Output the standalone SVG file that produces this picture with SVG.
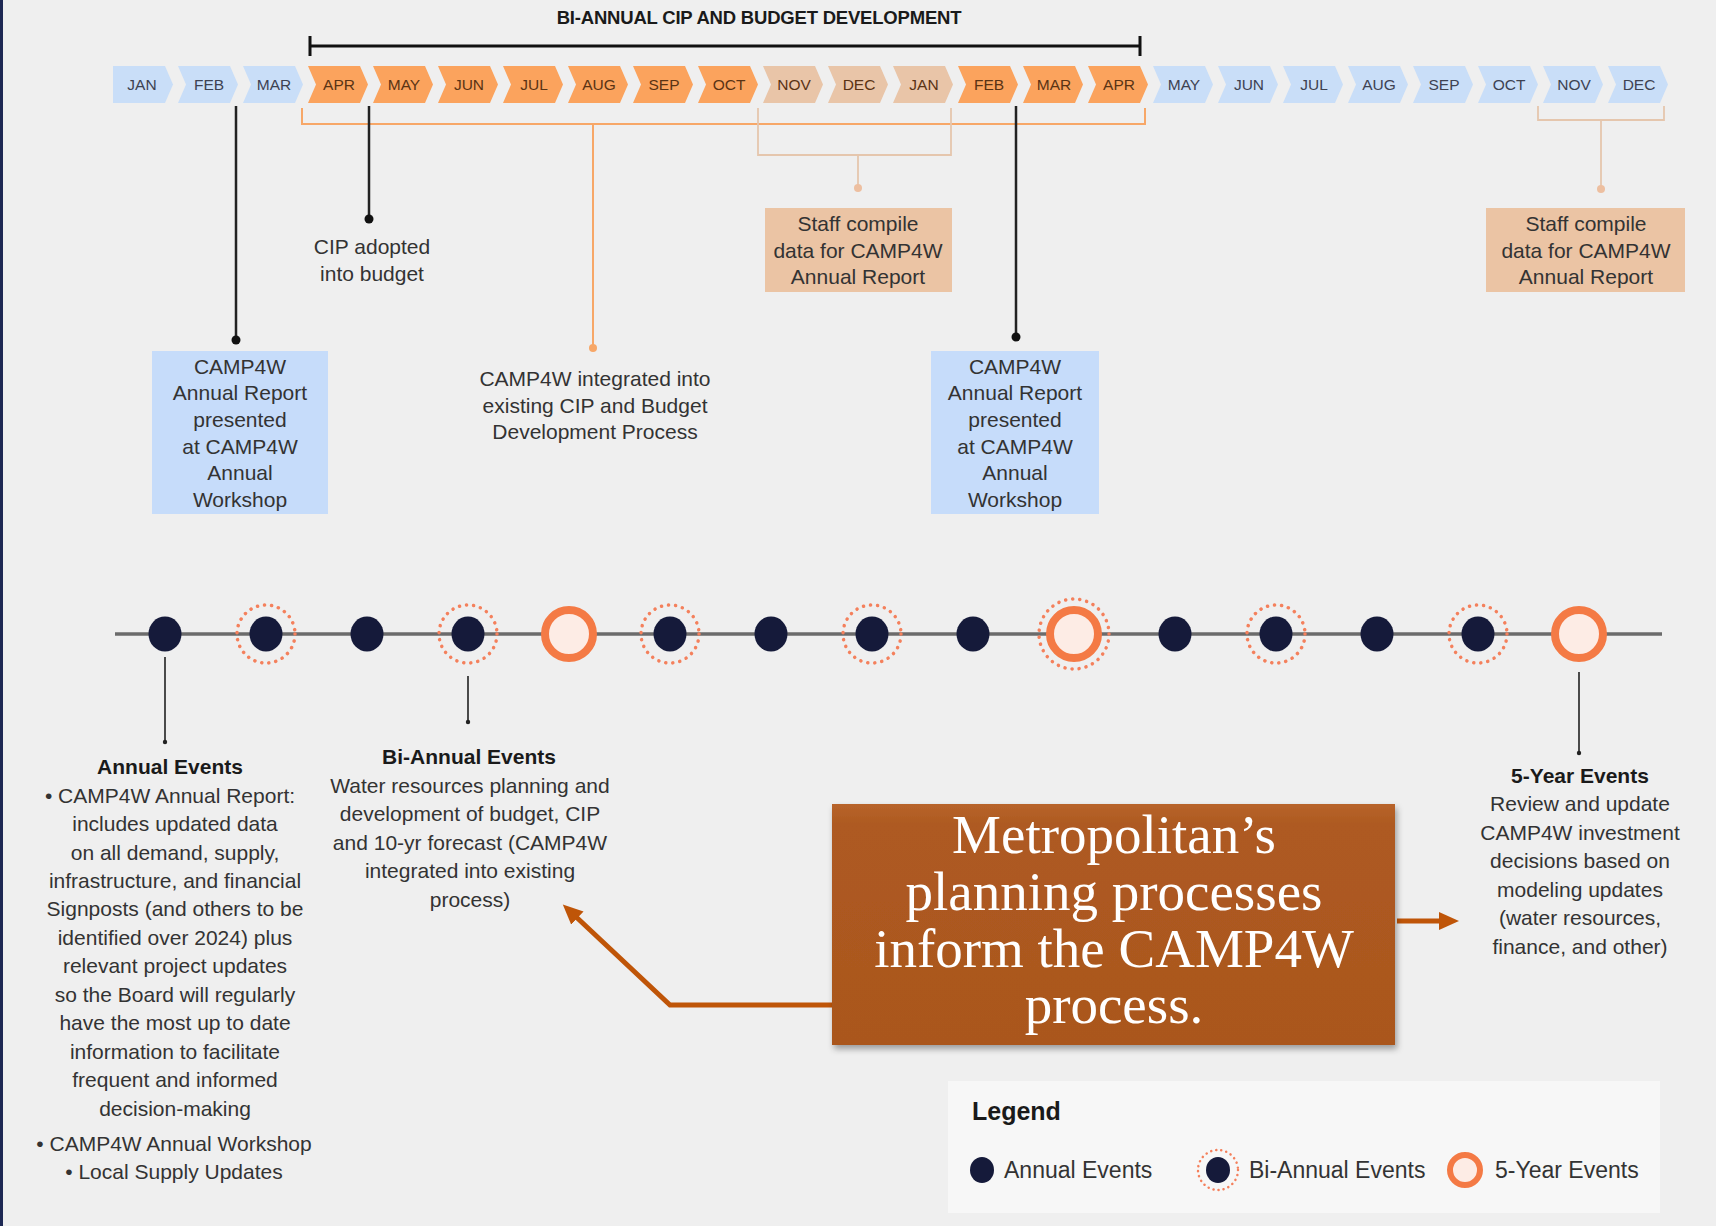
<svg xmlns="http://www.w3.org/2000/svg" width="1716" height="1226" viewBox="0 0 1716 1226">
<defs>
<style>
.sans{font-family:"Liberation Sans",Arial,sans-serif}
.mo{font-family:"Liberation Sans",Arial,sans-serif;font-size:15.5px;text-anchor:middle}
.mob{fill:#3d4252}
.moo{fill:#5a3314}
.chb{fill:#C9DEF8}
.cho{fill:#FBA35D}
.cht{fill:#E9C5A8}
.body{font-family:"Liberation Sans",Arial,sans-serif;font-size:21px;fill:#333333;text-anchor:middle}
.bold{font-weight:bold;fill:#1a1a1a}
.navy{fill:#151a3a}
.bi{fill:none;stroke:#F4805C;stroke-width:3.5;stroke-linecap:round;stroke-dasharray:0.1 7}
.five{fill:#FDECE5;stroke:#F47A45;stroke-width:8}
.blk{stroke:#222;stroke-width:2.5;fill:none}
.org{stroke:#F7A768;stroke-width:2;fill:none}
.tan{stroke:#E5C6AD;stroke-width:1.8;fill:none}
.arrow{stroke:#BF5508;stroke-width:5;fill:none}
</style>
<marker id="ah" markerUnits="userSpaceOnUse" markerWidth="22" markerHeight="20" refX="6" refY="9" orient="auto">
<path d="M0,0 L20,9 L0,18 Z" fill="#BF5508"/>
</marker>
<linearGradient id="brown" x1="0" y1="0" x2="0" y2="1">
<stop offset="0" stop-color="#B8642B"/>
<stop offset="0.08" stop-color="#AE5A21"/>
<stop offset="1" stop-color="#AA571E"/>
</linearGradient>
<filter id="sh" x="-5%" y="-5%" width="112%" height="115%">
<feDropShadow dx="2" dy="4" stdDeviation="3" flood-color="#000" flood-opacity="0.35"/>
</filter>
</defs>
<rect x="0" y="0" width="1716" height="1226" fill="#EFEFEF"/>
<rect x="0" y="0" width="3" height="1226" fill="#1d2853"/>

<g id="title">
<text x="759" y="24" class="sans" font-size="18.5" font-weight="bold" fill="#1a1a1a" text-anchor="middle" letter-spacing="-0.2">BI-ANNUAL CIP AND BUDGET DEVELOPMENT</text>
<path d="M310,46 H1140 M310,36 V56 M1140,36 V56" stroke="#111" stroke-width="3" fill="none"/>
</g>

<g id="months">
<path class="chb" d="M113,66 H165 L173,84.5 L165,103 H113 Z"/>
<text class="mo mob" x="142" y="90">JAN</text>
<path class="chb" d="M178,66 H230 L238,84.5 L230,103 H178 L186,84.5 Z"/>
<text class="mo mob" x="209" y="90">FEB</text>
<path class="chb" d="M243,66 H295 L303,84.5 L295,103 H243 L251,84.5 Z"/>
<text class="mo mob" x="274" y="90">MAR</text>
<path class="cho" d="M308,66 H360 L368,84.5 L360,103 H308 L316,84.5 Z"/>
<text class="mo moo" x="339" y="90">APR</text>
<path class="cho" d="M373,66 H425 L433,84.5 L425,103 H373 L381,84.5 Z"/>
<text class="mo moo" x="404" y="90">MAY</text>
<path class="cho" d="M438,66 H490 L498,84.5 L490,103 H438 L446,84.5 Z"/>
<text class="mo moo" x="469" y="90">JUN</text>
<path class="cho" d="M503,66 H555 L563,84.5 L555,103 H503 L511,84.5 Z"/>
<text class="mo moo" x="534" y="90">JUL</text>
<path class="cho" d="M568,66 H620 L628,84.5 L620,103 H568 L576,84.5 Z"/>
<text class="mo moo" x="599" y="90">AUG</text>
<path class="cho" d="M633,66 H685 L693,84.5 L685,103 H633 L641,84.5 Z"/>
<text class="mo moo" x="664" y="90">SEP</text>
<path class="cho" d="M698,66 H750 L758,84.5 L750,103 H698 L706,84.5 Z"/>
<text class="mo moo" x="729" y="90">OCT</text>
<path class="cht" d="M763,66 H815 L823,84.5 L815,103 H763 L771,84.5 Z"/>
<text class="mo moo" x="794" y="90">NOV</text>
<path class="cht" d="M828,66 H880 L888,84.5 L880,103 H828 L836,84.5 Z"/>
<text class="mo moo" x="859" y="90">DEC</text>
<path class="cht" d="M893,66 H945 L953,84.5 L945,103 H893 L901,84.5 Z"/>
<text class="mo moo" x="924" y="90">JAN</text>
<path class="cho" d="M958,66 H1010 L1018,84.5 L1010,103 H958 L966,84.5 Z"/>
<text class="mo moo" x="989" y="90">FEB</text>
<path class="cho" d="M1023,66 H1075 L1083,84.5 L1075,103 H1023 L1031,84.5 Z"/>
<text class="mo moo" x="1054" y="90">MAR</text>
<path class="cho" d="M1088,66 H1140 L1148,84.5 L1140,103 H1088 L1096,84.5 Z"/>
<text class="mo moo" x="1119" y="90">APR</text>
<path class="chb" d="M1153,66 H1205 L1213,84.5 L1205,103 H1153 L1161,84.5 Z"/>
<text class="mo mob" x="1184" y="90">MAY</text>
<path class="chb" d="M1218,66 H1270 L1278,84.5 L1270,103 H1218 L1226,84.5 Z"/>
<text class="mo mob" x="1249" y="90">JUN</text>
<path class="chb" d="M1283,66 H1335 L1343,84.5 L1335,103 H1283 L1291,84.5 Z"/>
<text class="mo mob" x="1314" y="90">JUL</text>
<path class="chb" d="M1348,66 H1400 L1408,84.5 L1400,103 H1348 L1356,84.5 Z"/>
<text class="mo mob" x="1379" y="90">AUG</text>
<path class="chb" d="M1413,66 H1465 L1473,84.5 L1465,103 H1413 L1421,84.5 Z"/>
<text class="mo mob" x="1444" y="90">SEP</text>
<path class="chb" d="M1478,66 H1530 L1538,84.5 L1530,103 H1478 L1486,84.5 Z"/>
<text class="mo mob" x="1509" y="90">OCT</text>
<path class="chb" d="M1543,66 H1595 L1603,84.5 L1595,103 H1543 L1551,84.5 Z"/>
<text class="mo mob" x="1574" y="90">NOV</text>
<path class="chb" d="M1608,66 H1660 L1668,84.5 L1660,103 H1608 L1616,84.5 Z"/>
<text class="mo mob" x="1639" y="90">DEC</text>
</g>

<g id="connectors">
<path class="org" d="M302,108 V124 H1145 V108 M593,124 V348"/>
<circle cx="593" cy="348" r="4" fill="#F7A768"/>
<path class="tan" d="M758,108 V155 H951 V108 M858,155 V188"/>
<circle cx="858" cy="188" r="4" fill="#EDBFA0"/>
<path class="tan" d="M1538,106 V120 H1664 V106 M1601,120 V189"/>
<circle cx="1601" cy="189" r="4" fill="#EDBFA0"/>
<path class="blk" d="M236,106 V340 M369,106 V219 M1016,106 V337"/>
<circle cx="236" cy="340" r="4.5" fill="#111"/>
<circle cx="369" cy="219" r="4.5" fill="#111"/>
<circle cx="1016" cy="337" r="4.5" fill="#111"/>
<path d="M165,657 V742 M468,676 V722 M1579,672 V753" stroke="#222" stroke-width="1.6" fill="none"/>
<circle cx="165" cy="742" r="2.2" fill="#222"/>
<circle cx="468" cy="722" r="2.2" fill="#222"/>
<circle cx="1579" cy="753" r="2.2" fill="#222"/>
<path class="arrow" d="M834,1005 H670 L573,914" marker-end="url(#ah)"/>
<path class="arrow" d="M1397,921 H1445" marker-end="url(#ah)"/>
</g>

<g id="cip-adopted">
<text class="body" x="372" y="254">CIP adopted</text>
<text class="body" x="372" y="281">into budget</text>
</g>

<g id="staff-compile-1">
<rect x="765" y="208" width="187" height="84" fill="#EBC4A4"/>
<text class="body" x="858" y="231">Staff compile</text>
<text class="body" x="858" y="258">data for CAMP4W</text>
<text class="body" x="858" y="284">Annual Report</text>
</g>

<g id="staff-compile-2">
<rect x="1486" y="208" width="199" height="84" fill="#EBC4A4"/>
<text class="body" x="1586" y="231">Staff compile</text>
<text class="body" x="1586" y="258">data for CAMP4W</text>
<text class="body" x="1586" y="284">Annual Report</text>
</g>

<g id="annual-report-1">
<rect x="152" y="351" width="176" height="163" fill="#C6DCFA"/>
<text class="body" x="240" y="374">CAMP4W</text>
<text class="body" x="240" y="400">Annual Report</text>
<text class="body" x="240" y="427">presented</text>
<text class="body" x="240" y="454">at CAMP4W</text>
<text class="body" x="240" y="480">Annual</text>
<text class="body" x="240" y="507">Workshop</text>
</g>

<g id="annual-report-2">
<rect x="931" y="351" width="168" height="163" fill="#C6DCFA"/>
<text class="body" x="1015" y="374">CAMP4W</text>
<text class="body" x="1015" y="400">Annual Report</text>
<text class="body" x="1015" y="427">presented</text>
<text class="body" x="1015" y="454">at CAMP4W</text>
<text class="body" x="1015" y="480">Annual</text>
<text class="body" x="1015" y="507">Workshop</text>
</g>

<g id="camp4w-integrated">
<text class="body" x="595" y="386">CAMP4W integrated into</text>
<text class="body" x="595" y="413">existing CIP and Budget</text>
<text class="body" x="595" y="439">Development Process</text>
</g>

<g id="timeline">
<path d="M115,634 H1662" stroke="#6b6b6b" stroke-width="3.5"/>
<ellipse class="navy" cx="165" cy="634" rx="16.5" ry="17.5"/>
<ellipse class="navy" cx="266" cy="634" rx="16.5" ry="17.5"/><circle class="bi" cx="266" cy="634" r="29"/>
<ellipse class="navy" cx="367" cy="634" rx="16.5" ry="17.5"/>
<ellipse class="navy" cx="468" cy="634" rx="16.5" ry="17.5"/><circle class="bi" cx="468" cy="634" r="29"/>
<circle class="five" cx="569" cy="634" r="24"/>
<ellipse class="navy" cx="670" cy="634" rx="16.5" ry="17.5"/><circle class="bi" cx="670" cy="634" r="29"/>
<ellipse class="navy" cx="771" cy="634" rx="16.5" ry="17.5"/>
<ellipse class="navy" cx="872" cy="634" rx="16.5" ry="17.5"/><circle class="bi" cx="872" cy="634" r="29"/>
<ellipse class="navy" cx="973" cy="634" rx="16.5" ry="17.5"/>
<circle class="five" cx="1074" cy="634" r="24"/><circle class="bi" cx="1074" cy="634" r="35"/>
<ellipse class="navy" cx="1175" cy="634" rx="16.5" ry="17.5"/>
<ellipse class="navy" cx="1276" cy="634" rx="16.5" ry="17.5"/><circle class="bi" cx="1276" cy="634" r="29"/>
<ellipse class="navy" cx="1377" cy="634" rx="16.5" ry="17.5"/>
<ellipse class="navy" cx="1478" cy="634" rx="16.5" ry="17.5"/><circle class="bi" cx="1478" cy="634" r="29"/>
<circle class="five" cx="1579" cy="634" r="24"/>
</g>

<g id="annual-events">
<text class="body bold" x="170" y="774">Annual Events</text>
<text class="body" x="170" y="803">• CAMP4W Annual Report:</text>
<text class="body" x="175" y="831">includes updated data</text>
<text class="body" x="175" y="860">on all demand, supply,</text>
<text class="body" x="175" y="888">infrastructure, and financial</text>
<text class="body" x="175" y="916">Signposts (and others to be</text>
<text class="body" x="175" y="945">identified over 2024) plus</text>
<text class="body" x="175" y="973">relevant project updates</text>
<text class="body" x="175" y="1002">so the Board will regularly</text>
<text class="body" x="175" y="1030">have the most up to date</text>
<text class="body" x="175" y="1059">information to facilitate</text>
<text class="body" x="175" y="1087">frequent and informed</text>
<text class="body" x="175" y="1116">decision-making</text>
<text class="body" x="174" y="1151">• CAMP4W Annual Workshop</text>
<text class="body" x="174" y="1179">• Local Supply Updates</text>
</g>

<g id="bi-annual-events">
<text class="body bold" x="469" y="764">Bi-Annual Events</text>
<text class="body" x="470" y="793">Water resources planning and</text>
<text class="body" x="470" y="821">development of budget, CIP</text>
<text class="body" x="470" y="850">and 10-yr forecast (CAMP4W</text>
<text class="body" x="470" y="878">integrated into existing</text>
<text class="body" x="470" y="907">process)</text>
</g>

<g id="five-year-events">
<text class="body bold" x="1580" y="783">5-Year Events</text>
<text class="body" x="1580" y="811">Review and update</text>
<text class="body" x="1580" y="840">CAMP4W investment</text>
<text class="body" x="1580" y="868">decisions based on</text>
<text class="body" x="1580" y="897">modeling updates</text>
<text class="body" x="1580" y="925">(water resources,</text>
<text class="body" x="1580" y="954">finance, and other)</text>
</g>

<g id="callout">
<rect x="832" y="804" width="563" height="241" fill="url(#brown)" filter="url(#sh)"/>
<g font-family="'Liberation Serif','Times New Roman',serif" font-size="55" fill="#ffffff" text-anchor="middle">
<text x="1114" y="853">Metropolitan’s</text>
<text x="1114" y="910">planning processes</text>
<text x="1114" y="967">inform the CAMP4W</text>
<text x="1114" y="1023">process.</text>
</g>
</g>

<g id="legend">
<rect x="948" y="1081" width="712" height="132" fill="#F7F7F7"/>
<text x="972" y="1120" class="sans" font-size="25" font-weight="bold" fill="#1a1a1a">Legend</text>
<ellipse class="navy" cx="982" cy="1170" rx="12" ry="13"/>
<text x="1004" y="1178" class="sans" font-size="23" fill="#333">Annual Events</text>
<ellipse class="navy" cx="1218" cy="1170" rx="12" ry="13"/>
<circle cx="1218" cy="1170" r="20" fill="none" stroke="#F4805C" stroke-width="2.5" stroke-linecap="round" stroke-dasharray="0.1 5"/>
<text x="1249" y="1178" class="sans" font-size="23" fill="#333">Bi-Annual Events</text>
<circle cx="1465" cy="1170" r="15" fill="#FDECE5" stroke="#F47A45" stroke-width="6"/>
<text x="1495" y="1178" class="sans" font-size="23" fill="#333">5-Year Events</text>
</g>
</svg>
